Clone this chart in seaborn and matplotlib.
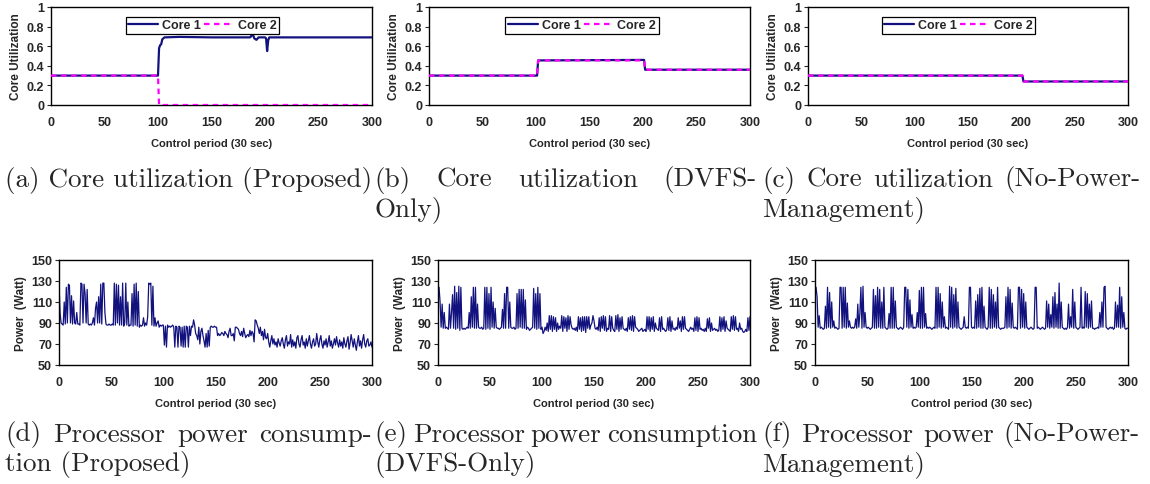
import numpy as np
import pandas as pd
import seaborn as sns
import matplotlib.pyplot as plt

navy = "#12127E"      # Core 1 / power
magenta = "#FF00FF"   # Core 2

sns.set_theme(style="white")
plt.rcParams["font.family"] = ["Liberation Sans", "DejaVu Sans"]

# ---- core utilization (breakpoints) ----
util_a_core1_x = [0, 100, 101, 102, 103, 104, 106, 120, 150, 186, 187, 188, 189, 190, 192, 194,
                  200, 201, 202, 203, 204, 250, 300]
util_a_core1_y = [0.30, 0.30, 0.58, 0.61, 0.62, 0.67, 0.69, 0.695, 0.69, 0.69, 0.70, 0.74, 0.71,
                  0.68, 0.665, 0.69, 0.69, 0.68, 0.55, 0.66, 0.69, 0.69, 0.69]
util_a_core2_x = [0, 100, 101, 300]
util_a_core2_y = [0.30, 0.30, 0.0, 0.0]

util_b_core1_x = [0, 101, 102, 201, 202, 300]
util_b_core1_y = [0.30, 0.30, 0.455, 0.46, 0.36, 0.36]
util_b_core2_x = [0, 101, 102, 201, 202, 300]
util_b_core2_y = [0.30, 0.30, 0.455, 0.455, 0.36, 0.36]

util_c_core1_x = [0, 201, 202, 300]
util_c_core1_y = [0.30, 0.30, 0.24, 0.24]
util_c_core2_x = [0, 201, 202, 300]
util_c_core2_y = [0.30, 0.30, 0.24, 0.24]

# ---- processor power, one value per control period (0..300) ----
power_proposed = [
    128, 100, 90, 89, 88, 110, 89, 124, 90, 127,
    126, 90, 116, 89, 111, 90, 89, 100, 89, 89,
    88, 128, 127, 90, 127, 118, 90, 122, 89, 88,
    89, 88, 90, 95, 88, 104, 110, 90, 115, 90,
    127, 89, 128, 128, 100, 89, 88, 88, 89, 88,
    88, 89, 88, 128, 88, 127, 90, 126, 88, 115,
    88, 128, 87, 90, 128, 88, 110, 87, 88, 88,
    118, 87, 127, 88, 128, 87, 120, 86, 88, 87,
    88, 95, 87, 90, 88, 96, 128, 127, 128, 88,
    125, 87, 95, 87, 90, 92, 86, 88, 87, 88,
    88, 69, 87, 67, 88, 86, 87, 86, 87, 88,
    86, 67, 87, 86, 67, 87, 86, 68, 86, 67,
    87, 67, 87, 86, 67, 87, 78, 87, 86, 93,
    88, 80, 78, 74, 86, 70, 82, 85, 78, 73,
    67, 80, 67, 83, 68, 86, 87, 86, 86, 87,
    86, 86, 78, 80, 78, 79, 81, 80, 78, 82,
    80, 79, 76, 82, 85, 78, 78, 80, 73, 86,
    86, 85, 84, 80, 78, 82, 77, 85, 80, 76,
    78, 79, 77, 83, 78, 82, 80, 72, 93, 92,
    88, 85, 80, 86, 78, 82, 74, 84, 76, 75,
    80, 72, 67, 73, 78, 70, 75, 69, 72, 67,
    75, 71, 68, 73, 76, 70, 66, 74, 78, 68,
    72, 70, 79, 67, 74, 68, 72, 66, 76, 78,
    70, 67, 74, 78, 69, 72, 66, 75, 68, 73,
    78, 70, 66, 72, 75, 68, 70, 80, 72, 67,
    74, 78, 70, 66, 73, 69, 75, 67, 72, 78,
    68, 73, 66, 70, 75, 69, 77, 71, 67, 74,
    68, 72, 66, 76, 70, 67, 73, 77, 65, 71,
    79, 73, 67, 75, 69, 64, 72, 78, 68, 73,
    66, 74, 79, 70, 67, 73, 75, 68, 69, 72,
    67,
]
power_dvfs = [
    124, 124, 110, 86, 108, 85, 100, 85, 86, 85,
    84, 108, 85, 100, 117, 85, 125, 84, 119, 85,
    125, 83, 124, 85, 84, 85, 84, 85, 86, 85,
    100, 85, 115, 86, 124, 85, 124, 85, 108, 86,
    85, 85, 86, 84, 85, 124, 84, 124, 85, 118,
    84, 124, 86, 110, 85, 104, 86, 85, 85, 84,
    85, 86, 103, 85, 118, 85, 124, 124, 85, 110,
    86, 85, 85, 86, 84, 85, 118, 85, 122, 86,
    122, 85, 122, 85, 112, 84, 86, 85, 83, 84,
    85, 86, 123, 85, 118, 84, 124, 85, 118, 84,
    86, 80, 82, 86, 83, 90, 82, 97, 84, 97,
    82, 96, 84, 95, 82, 90, 84, 87, 85, 97,
    82, 96, 85, 95, 82, 97, 84, 96, 88, 85,
    84, 85, 83, 86, 82, 96, 84, 95, 82, 96,
    83, 96, 81, 96, 85, 96, 84, 88, 90, 97,
    92, 85, 84, 86, 83, 95, 82, 96, 85, 97,
    83, 96, 82, 85, 84, 97, 82, 96, 85, 83,
    82, 97, 84, 98, 82, 95, 84, 96, 85, 84,
    83, 85, 82, 95, 84, 96, 83, 97, 82, 96,
    86, 85, 84, 82, 83, 84, 85, 82, 83, 84,
    82, 96, 84, 96, 82, 95, 84, 96, 82, 90,
    85, 84, 83, 95, 82, 96, 84, 85, 83, 82,
    84, 95, 83, 96, 82, 92, 84, 85, 83, 86,
    84, 95, 85, 92, 82, 96, 84, 96, 85, 84,
    83, 82, 84, 86, 84, 85, 82, 95, 83, 96,
    82, 95, 84, 85, 83, 84, 82, 85, 82, 94,
    85, 95, 82, 90, 83, 84, 85, 83, 84, 82,
    83, 96, 82, 95, 84, 96, 82, 92, 85, 84,
    83, 82, 96, 84, 97, 83, 96, 84, 85, 82,
    90, 84, 85, 82, 81, 82, 84, 82, 95, 83,
    96,
]
power_nopm = [
    124, 124, 115, 86, 97, 85, 86, 85, 84, 85,
    106, 85, 124, 86, 119, 85, 110, 86, 92, 85,
    86, 85, 84, 85, 124, 124, 85, 124, 86, 124,
    85, 109, 86, 92, 86, 85, 86, 85, 86, 94,
    85, 108, 86, 99, 124, 85, 125, 86, 100, 86,
    85, 86, 85, 84, 85, 86, 122, 85, 116, 85,
    124, 86, 122, 85, 110, 85, 124, 86, 85, 84,
    85, 99, 85, 124, 85, 124, 85, 111, 86, 85,
    84, 85, 86, 85, 84, 86, 124, 124, 86, 122,
    85, 112, 86, 98, 85, 86, 85, 86, 100, 86,
    121, 85, 124, 85, 124, 86, 99, 85, 86, 85,
    86, 85, 84, 85, 86, 85, 124, 85, 124, 86,
    118, 85, 110, 86, 96, 85, 86, 85, 84, 125,
    86, 124, 85, 117, 86, 123, 85, 110, 86, 85,
    84, 85, 86, 96, 86, 85, 86, 85, 124, 124,
    86, 85, 86, 85, 111, 85, 117, 86, 123, 85,
    124, 85, 106, 86, 85, 84, 86, 124, 85, 122,
    85, 117, 86, 110, 85, 124, 86, 85, 84, 85,
    85, 85, 86, 115, 85, 124, 86, 122, 85, 109,
    86, 85, 86, 85, 84, 124, 124, 85, 122, 86,
    118, 85, 110, 86, 85, 84, 85, 86, 85, 84,
    85, 124, 124, 85, 86, 85, 84, 85, 86, 85,
    84, 85, 111, 86, 108, 85, 98, 86, 115, 85,
    119, 86, 108, 85, 128, 85, 110, 86, 85, 84,
    85, 84, 86, 108, 85, 96, 86, 122, 85, 110,
    86, 85, 84, 85, 86, 124, 85, 86, 85, 120,
    86, 118, 85, 108, 86, 111, 85, 85, 84, 85,
    85, 86, 85, 100, 86, 110, 86, 124, 125, 86,
    85, 84, 85, 86, 85, 86, 84, 85, 110, 86,
    107, 86, 124, 85, 115, 86, 100, 85, 84, 85,
    85,
]

captions = [
    # (left px, right px, first-line y px, lines, justify first line)
    (5, 372, 180, ["(a) Core utilization (Proposed)"], False),
    (374, 757, 180, ["(b) Core utilization (DVFS-", "Only)"], True),
    (762, 1140, 180, ["(c) Core utilization (No-Power-", "Management)"], True),
    (5, 372, 435, ["(d) Processor power consump-", "tion (Proposed)"], True),
    (374, 757, 435, ["(e) Processor power consumption", "(DVFS-Only)"], True),
    (762, 1140, 435, ["(f) Processor power (No-Power-", "Management)"], True),
]

W, H = 1150, 485
fig = plt.figure(figsize=(W / 100, H / 100), dpi=100)


def px_axes(left, right, top, bottom):
    return fig.add_axes([left / W, 1 - bottom / H, (right - left) / W, (bottom - top) / H])


def style_axes(ax, ylabel):
    for s in ax.spines.values():
        s.set_visible(True)
        s.set_color("black")
        s.set_linewidth(1.0)
    ax.set_xlim(0, 300)
    ax.set_xticks(range(0, 301, 50))
    ax.tick_params(axis="x", direction="in", length=3, width=0.8, pad=8, labelsize=9)
    ax.tick_params(axis="y", direction="out", length=3, width=0.8, pad=2, labelsize=9, left=True)
    for lab in ax.get_xticklabels() + ax.get_yticklabels():
        lab.set_fontweight("bold")
    ax.set_xlabel("Control period (30 sec)", fontsize=8, fontweight="bold", labelpad=7)
    ax.set_ylabel(ylabel, fontsize=8.5, fontweight="bold", labelpad=3)


util_sets = [
    ((51, 372), util_a_core1_x, util_a_core1_y, util_a_core2_x, util_a_core2_y, 0.472),
    ((429, 750), util_b_core1_x, util_b_core1_y, util_b_core2_x, util_b_core2_y, 0.477),
    ((808, 1128), util_c_core1_x, util_c_core1_y, util_c_core2_x, util_c_core2_y, 0.47),
]
for (l, r), x1, y1, x2, y2, lx in util_sets:
    ax = px_axes(l, r, 8, 106)
    sns.lineplot(x=x1, y=y1, ax=ax, color=navy, lw=1.6, estimator=None, label="Core 1", zorder=3)
    sns.lineplot(x=x2, y=y2, ax=ax, color=magenta, lw=1.6, estimator=None, label="Core 2", zorder=4)
    ax.lines[1].set_linestyle((0, (2.5, 2)))
    ax.set_ylim(0, 1)
    ax.set_yticks([0, 0.2, 0.4, 0.6, 0.8, 1.0])
    ax.set_yticklabels(["0", "0.2", "0.4", "0.6", "0.8", "1"])
    style_axes(ax, "Core Utilization")
    leg = ax.legend(ncol=2, loc="upper center", bbox_to_anchor=(lx, 0.965), frameon=True,
                    fancybox=False, edgecolor="black", framealpha=1, borderpad=0.2,
                    handlelength=2.4, handletextpad=0.3, columnspacing=0.25,
                    prop={"weight": "bold", "size": 9})
    leg.get_frame().set_linewidth(0.9)

power_sets = [((59, 372), power_proposed), ((438, 750), power_dvfs), ((815, 1128), power_nopm)]
for (l, r), series in power_sets:
    ax = px_axes(l, r, 261, 366)
    df = pd.DataFrame({"period": np.arange(len(series)), "power": series})
    sns.lineplot(data=df, x="period", y="power", ax=ax, color=navy, lw=0.9, estimator=None)
    ax.set_ylim(50, 150)
    ax.set_yticks(range(50, 151, 20))
    style_axes(ax, "Power  (Watt)")

# ---- LaTeX-like subfigure captions ----
cap_size = 19.5
line_gap = 30
fig.canvas.draw()
renderer = fig.canvas.get_renderer()
for x0, x1, y0, lines, justify in captions:
    for i, line in enumerate(lines):
        y = 1 - (y0 + i * line_gap) / H
        if i == 0 and justify:
            words = line.split(" ")
            texts = [fig.text(0, y, w, family="cmr10", fontsize=cap_size, ha="left", va="center")
                     for w in words]
            widths = [t.get_window_extent(renderer).width for t in texts]
            gap = (x1 - x0 - sum(widths)) / (len(words) - 1)
            pos = x0
            for t, w in zip(texts, widths):
                t.set_x(pos / W)
                pos += w + gap
        else:
            fig.text(x0 / W, y, line, family="cmr10", fontsize=cap_size, ha="left", va="center")

plt.savefig("out.png", dpi=100)
plt.close()
